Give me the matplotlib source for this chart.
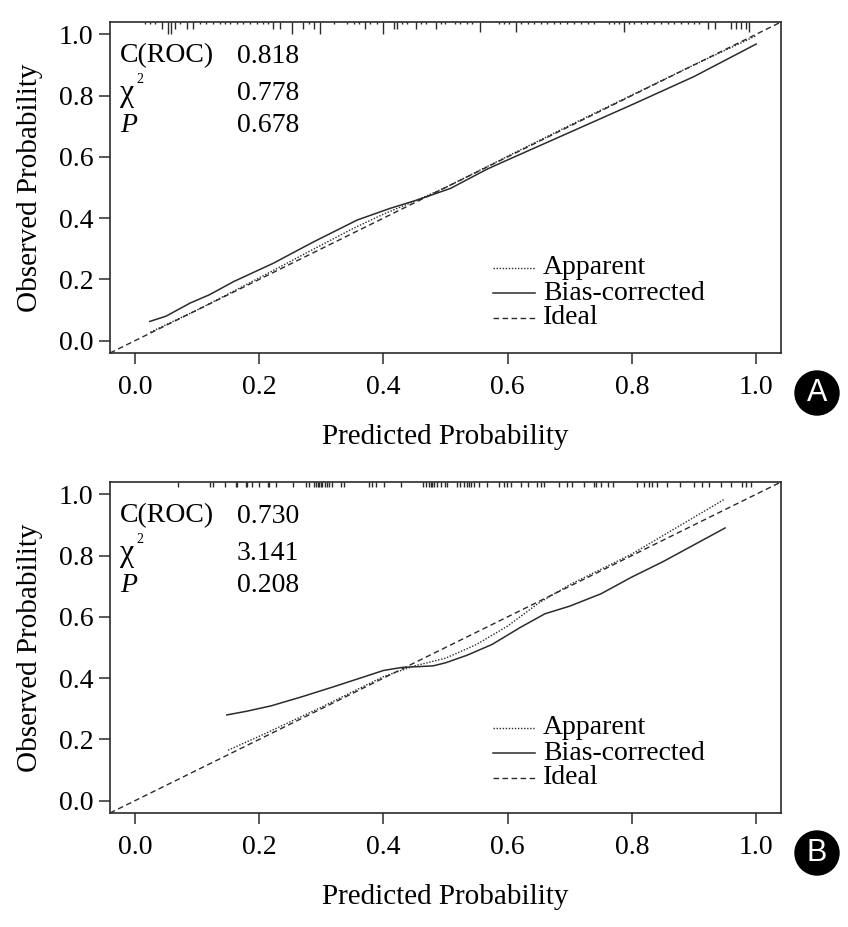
import matplotlib
matplotlib.use("Agg")
import matplotlib.pyplot as plt
from matplotlib.patches import Ellipse

plt.rcParams["font.family"] = ["Liberation Serif", "DejaVu Serif"]

# ---- Panel A data ----
a_app_x = [0.025, 0.10, 0.20, 0.30, 0.35, 0.40, 0.45, 0.50, 0.60, 0.70, 0.80, 0.90, 1.00]
a_app_y = [0.028, 0.100, 0.205, 0.312, 0.365, 0.413, 0.455, 0.500, 0.602, 0.703, 0.802, 0.900, 0.995]
a_bc_x = [0.024, 0.05, 0.089, 0.12, 0.159, 0.223, 0.288, 0.358, 0.411, 0.454, 0.508,
          0.567, 0.60, 0.70, 0.80, 0.90, 1.00]
a_bc_y = [0.063, 0.080, 0.123, 0.150, 0.193, 0.253, 0.323, 0.394, 0.432, 0.459, 0.497,
          0.560, 0.590, 0.680, 0.770, 0.862, 0.968]
a_stats = [("C(ROC)", "0.818"), ("χ", "0.778"), ("P", "0.678")]

# rug (spike histogram): predicted prob, relative frequency
a_rug_x = [0.016, 0.024, 0.032, 0.043, 0.054, 0.058, 0.065, 0.073, 0.084, 0.094,
           0.105, 0.115, 0.126, 0.137, 0.145, 0.153, 0.164, 0.174, 0.185, 0.196,
           0.207, 0.215, 0.223, 0.234, 0.253, 0.271, 0.280, 0.288, 0.298, 0.321,
           0.342, 0.352, 0.360, 0.371, 0.379, 0.390, 0.400, 0.417, 0.422, 0.430,
           0.438, 0.452, 0.460, 0.468, 0.484, 0.492, 0.500, 0.516, 0.524, 0.535,
           0.543, 0.556, 0.586, 0.594, 0.602, 0.613, 0.621, 0.632, 0.642, 0.653,
           0.664, 0.675, 0.685, 0.696, 0.707, 0.718, 0.729, 0.739, 0.763, 0.771,
           0.779, 0.787, 0.796, 0.804, 0.815, 0.825, 0.836, 0.847, 0.858, 0.868,
           0.879, 0.890, 0.900, 0.908, 0.922, 0.933, 0.960, 0.968, 0.976, 0.984,
           0.989]
a_rug_f = [1, 1, 1, 3, 5, 5, 3, 1, 3, 3,
           1, 1, 1, 1, 1, 1, 1, 1, 1, 1,
           1, 1, 3, 3, 5, 3, 1, 3, 5, 1,
           1, 1, 1, 3, 1, 1, 5, 3, 3, 1,
           1, 3, 1, 1, 3, 1, 1, 1, 1, 1,
           1, 4, 1, 1, 1, 4, 1, 1, 1, 1,
           1, 1, 1, 1, 1, 1, 1, 1, 1, 1,
           1, 4, 1, 1, 1, 1, 1, 1, 1, 1,
           1, 1, 1, 1, 3, 3, 3, 3, 3, 3,
           4]

# ---- Panel B data ----
b_app_x = [0.15, 0.20, 0.30, 0.40, 0.45, 0.50, 0.55, 0.60, 0.65, 0.70, 0.80, 0.90, 0.95]
b_app_y = [0.165, 0.210, 0.305, 0.405, 0.440, 0.465, 0.510, 0.570, 0.645, 0.705, 0.805, 0.925, 0.985]
b_bc_x = [0.148, 0.18, 0.22, 0.27, 0.32, 0.37, 0.40, 0.43, 0.48, 0.50, 0.535, 0.575,
          0.62, 0.66, 0.70, 0.75, 0.80, 0.85, 0.90, 0.95]
b_bc_y = [0.280, 0.292, 0.310, 0.340, 0.372, 0.405, 0.425, 0.435, 0.440, 0.450, 0.475, 0.510,
          0.565, 0.610, 0.635, 0.675, 0.730, 0.780, 0.835, 0.890]
b_stats = [("C(ROC)", "0.730"), ("χ", "3.141"), ("P", "0.208")]

b_rug_x = [0.070, 0.121, 0.125, 0.145, 0.163, 0.165, 0.179, 0.181, 0.189, 0.200,
           0.214, 0.216, 0.227, 0.254, 0.275, 0.280, 0.289, 0.291, 0.294, 0.297,
           0.299, 0.302, 0.306, 0.310, 0.313, 0.318, 0.331, 0.337, 0.377, 0.382,
           0.388, 0.401, 0.428, 0.463, 0.468, 0.474, 0.476, 0.479, 0.481, 0.487,
           0.492, 0.500, 0.503, 0.519, 0.524, 0.530, 0.535, 0.538, 0.541, 0.546,
           0.554, 0.567, 0.586, 0.594, 0.599, 0.605, 0.621, 0.632, 0.648, 0.653,
           0.659, 0.683, 0.696, 0.704, 0.723, 0.739, 0.742, 0.750, 0.761, 0.769,
           0.809, 0.820, 0.828, 0.833, 0.841, 0.857, 0.878, 0.900, 0.913, 0.924,
           0.943, 0.959, 0.978, 0.983, 0.991]

TICKS = [0.0, 0.2, 0.4, 0.6, 0.8, 1.0]
LIM = (-0.04, 1.04)
INK = "#2b2b2b"
FS = 20


def draw_panel(ax, app_x, app_y, bc_x, bc_y, stats, rug_x, rug_h):
    ax.set_xlim(LIM)
    ax.set_ylim(LIM)
    # rug at top of plot
    top = LIM[1]
    ax.vlines(rug_x, [top - h for h in rug_h], top, color=INK, linewidth=1.0)
    ax.plot(LIM, LIM, color=INK, linewidth=1.0, linestyle=(0, (4, 2.5)))
    ax.plot(app_x, app_y, color=INK, linewidth=1.0, linestyle=(0, (1, 1.2)))
    ax.plot(bc_x, bc_y, color=INK, linewidth=1.1)

    ax.set_xticks(TICKS)
    ax.set_yticks(TICKS)
    ax.set_xticklabels([f"{t:.1f}" for t in TICKS])
    ax.set_yticklabels([f"{t:.1f}" for t in TICKS])
    ax.tick_params(direction="out", length=8, width=1.1, color=INK,
                   labelsize=FS, labelcolor="black")
    ax.tick_params(axis="x", pad=8)
    ax.tick_params(axis="y", pad=4)
    for s in ax.spines.values():
        s.set_linewidth(1.2)
        s.set_color(INK)
    ax.set_xlabel("Predicted Probability", fontsize=FS + 1, labelpad=17)
    ax.set_ylabel("Observed Probability", fontsize=FS + 1, labelpad=11)

    # statistics block
    for (lab, val), yy in zip(stats, [0.897, 0.785, 0.686]):
        style = "italic" if lab == "P" else "normal"
        size = FS + 3 if lab == "χ" else FS
        ax.text(0.015, yy, lab, transform=ax.transAxes, fontsize=size,
                fontstyle=style, va="center", ha="left")
        ax.text(0.189, yy, val, transform=ax.transAxes, fontsize=FS,
                va="center", ha="left")
        if lab == "χ":
            ax.text(0.040, yy + 0.04, "2", transform=ax.transAxes, fontsize=10,
                    va="center", ha="left")

    # legend
    styles = [("Apparent", (0, (1, 1.2)), 1.0),
              ("Bias-corrected", "-", 1.1),
              ("Ideal", (0, (4, 2.5)), 1.0)]
    for (lab, ls, lw), yy in zip(styles, [0.257, 0.181, 0.106]):
        ax.plot([0.571, 0.634], [yy, yy], transform=ax.transAxes, color=INK,
                linestyle=ls, linewidth=lw)
        ax.text(0.645, yy, lab, transform=ax.transAxes, fontsize=FS,
                va="center", ha="left")


def badge(fig, xc, yc, letter):
    W, H = 848, 927
    fig.add_artist(Ellipse((xc / W, 1 - yc / H), 44 / W, 44 / H,
                           transform=fig.transFigure, color="black"))
    fig.text(xc / W, 1 - yc / H, letter, color="white", fontsize=22,
             family=["Liberation Sans", "DejaVu Sans"], ha="center", va="center")


fig = plt.figure(figsize=(8.48, 9.27), dpi=100)
ax_a = fig.add_axes([110 / 848, 1 - 353 / 927, 671 / 848, 331 / 927])
ax_b = fig.add_axes([110 / 848, 1 - 813 / 927, 671 / 848, 331 / 927])

scale = 0.008
draw_panel(ax_a, a_app_x, a_app_y, a_bc_x, a_bc_y, a_stats,
           a_rug_x, [f * scale for f in a_rug_f])
draw_panel(ax_b, b_app_x, b_app_y, b_bc_x, b_bc_y, b_stats,
           b_rug_x, [0.016] * len(b_rug_x))

badge(fig, 817, 393, "A")
badge(fig, 817, 853, "B")

fig.savefig("out.png", dpi=100)
